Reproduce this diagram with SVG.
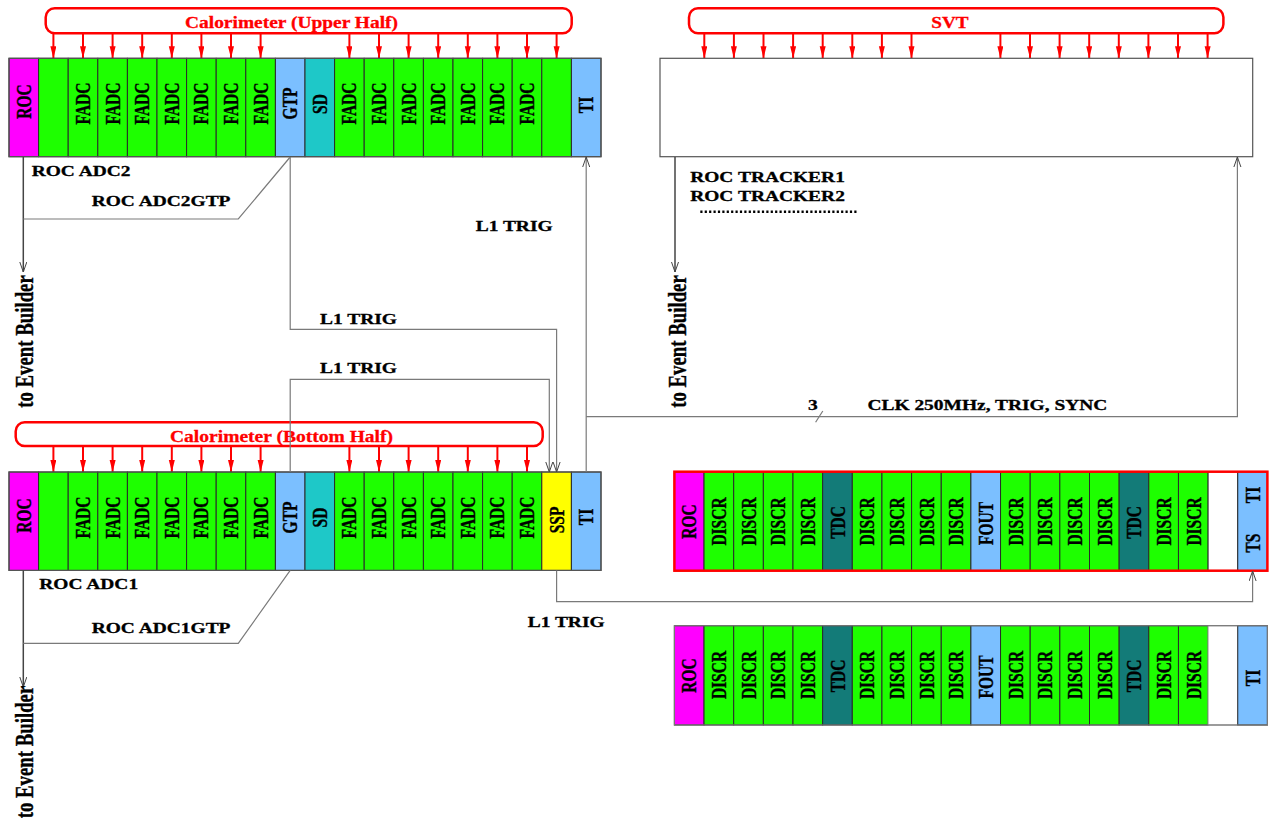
<svg xmlns="http://www.w3.org/2000/svg" width="1270" height="823" viewBox="0 0 1270 823">
<style>
.s{stroke:#2a2a2a;stroke-width:1}
.roc{fill:#ff00ff}.grn{fill:#1eff00}.lb{fill:#7bbfff}.sd{fill:#1ec8c8}.tdc{fill:#137b78}.ssp{fill:#ffff00}.wh{fill:#ffffff}
.crate{fill:none;stroke:#555;stroke-width:1.2}
.t{font-family:"Liberation Serif","Times New Roman",serif;font-weight:bold;font-size:15.5px;fill:#000;stroke:#000;stroke-width:0.3}
.v{text-anchor:middle}
.ttl{font-family:"Liberation Serif","Times New Roman",serif;font-weight:bold;font-size:17px;fill:#ff0000;stroke:#ff0000;stroke-width:0.3}
.bus{fill:none;stroke:#ff0000;stroke-width:2.5}
.ra{stroke:#ff0000;stroke-width:2;marker-end:url(#rh)}
.c{fill:none;stroke:#7a7a7a;stroke-width:1.2}
.eb{fill:none;stroke:#444;stroke-width:1.5}
</style>
<defs>
<marker id="rh" markerUnits="userSpaceOnUse" markerWidth="14" markerHeight="8" refX="12" refY="3" orient="auto"><path d="M0,0 L12,3 L0,6 z" fill="#ff0000"/></marker>
<marker id="oh" markerUnits="userSpaceOnUse" markerWidth="12" markerHeight="10" refX="10" refY="4" orient="auto"><path d="M0,0.5 L10,4 L0,7.5" fill="none" stroke="#444" stroke-width="1"/></marker>
</defs>
<rect width="1270" height="823" fill="#fff"/>

<g id="calo-upper-bus">
<rect class="bus" x="45.7" y="8.3" width="526" height="25" rx="9"/>
<text class="ttl" transform="translate(185,28.3) scale(1.144,1)">Calorimeter (Upper Half)</text>
<line class="ra" x1="53.4" y1="33.3" x2="53.4" y2="58.3"/><line class="ra" x1="83" y1="33.3" x2="83" y2="58.3"/><line class="ra" x1="112.6" y1="33.3" x2="112.6" y2="58.3"/><line class="ra" x1="142.2" y1="33.3" x2="142.2" y2="58.3"/><line class="ra" x1="171.8" y1="33.3" x2="171.8" y2="58.3"/><line class="ra" x1="201.4" y1="33.3" x2="201.4" y2="58.3"/><line class="ra" x1="231" y1="33.3" x2="231" y2="58.3"/><line class="ra" x1="260.6" y1="33.3" x2="260.6" y2="58.3"/>
<line class="ra" x1="349.4" y1="33.3" x2="349.4" y2="58.3"/><line class="ra" x1="379" y1="33.3" x2="379" y2="58.3"/><line class="ra" x1="408.6" y1="33.3" x2="408.6" y2="58.3"/><line class="ra" x1="438.2" y1="33.3" x2="438.2" y2="58.3"/><line class="ra" x1="467.8" y1="33.3" x2="467.8" y2="58.3"/><line class="ra" x1="497.4" y1="33.3" x2="497.4" y2="58.3"/><line class="ra" x1="527" y1="33.3" x2="527" y2="58.3"/><line class="ra" x1="556.6" y1="33.3" x2="556.6" y2="58.3"/>
</g>

<g id="crate-adc2">
<rect class="s roc" x="9" y="58.3" width="29.6" height="98.4"/>
<rect class="s grn" x="38.6" y="58.3" width="29.6" height="98.4"/>
<rect class="s grn" x="68.2" y="58.3" width="29.6" height="98.4"/>
<rect class="s grn" x="97.8" y="58.3" width="29.6" height="98.4"/>
<rect class="s grn" x="127.4" y="58.3" width="29.6" height="98.4"/>
<rect class="s grn" x="157" y="58.3" width="29.6" height="98.4"/>
<rect class="s grn" x="186.6" y="58.3" width="29.6" height="98.4"/>
<rect class="s grn" x="216.2" y="58.3" width="29.6" height="98.4"/>
<rect class="s grn" x="245.8" y="58.3" width="29.6" height="98.4"/>
<rect class="s lb" x="275.4" y="58.3" width="29.6" height="98.4"/>
<rect class="s sd" x="305" y="58.3" width="29.6" height="98.4"/>
<rect class="s grn" x="334.6" y="58.3" width="29.6" height="98.4"/>
<rect class="s grn" x="364.2" y="58.3" width="29.6" height="98.4"/>
<rect class="s grn" x="393.8" y="58.3" width="29.6" height="98.4"/>
<rect class="s grn" x="423.4" y="58.3" width="29.6" height="98.4"/>
<rect class="s grn" x="453" y="58.3" width="29.6" height="98.4"/>
<rect class="s grn" x="482.6" y="58.3" width="29.6" height="98.4"/>
<rect class="s grn" x="512.2" y="58.3" width="29.6" height="98.4"/>
<rect class="s grn" x="541.8" y="58.3" width="29.6" height="98.4"/>
<rect class="s lb" x="571.4" y="58.3" width="29.6" height="98.4"/>
<rect class="crate" x="9" y="58.3" width="592" height="98.4"/>
<g class="t v">
<text transform="translate(30.8,101.5) scale(1.3,1) rotate(-90)">ROC</text>
<text transform="translate(90,103.5) scale(1.3,1) rotate(-90)">FADC</text>
<text transform="translate(119.6,103.5) scale(1.3,1) rotate(-90)">FADC</text>
<text transform="translate(149.2,103.5) scale(1.3,1) rotate(-90)">FADC</text>
<text transform="translate(178.8,103.5) scale(1.3,1) rotate(-90)">FADC</text>
<text transform="translate(208.4,103.5) scale(1.3,1) rotate(-90)">FADC</text>
<text transform="translate(238,103.5) scale(1.3,1) rotate(-90)">FADC</text>
<text transform="translate(267.6,103.5) scale(1.3,1) rotate(-90)">FADC</text>
<text transform="translate(297.2,103.5) scale(1.3,1) rotate(-90)">GTP</text>
<text transform="translate(326.8,104) scale(1.3,1) rotate(-90)">SD</text>
<text transform="translate(356.4,103.5) scale(1.3,1) rotate(-90)">FADC</text>
<text transform="translate(386,103.5) scale(1.3,1) rotate(-90)">FADC</text>
<text transform="translate(415.6,103.5) scale(1.3,1) rotate(-90)">FADC</text>
<text transform="translate(445.2,103.5) scale(1.3,1) rotate(-90)">FADC</text>
<text transform="translate(474.8,103.5) scale(1.3,1) rotate(-90)">FADC</text>
<text transform="translate(504.4,103.5) scale(1.3,1) rotate(-90)">FADC</text>
<text transform="translate(534,103.5) scale(1.3,1) rotate(-90)">FADC</text>
<text transform="translate(593.2,105) scale(1.3,1) rotate(-90)">TI</text>
</g>
<text class="t" transform="translate(31.7,176) scale(1.255,1)">ROC ADC2</text>
<text class="t" transform="translate(91.7,206) scale(1.255,1)">ROC ADC2GTP</text>
</g>

<g id="svt-bus">
<rect class="bus" x="689" y="8.3" width="534.4" height="25" rx="9"/>
<text class="ttl" transform="translate(931.3,28) scale(1.13,1)">SVT</text>
<line class="ra" x1="704.3" y1="33.3" x2="704.3" y2="58.3"/><line class="ra" x1="733.9" y1="33.3" x2="733.9" y2="58.3"/><line class="ra" x1="763.5" y1="33.3" x2="763.5" y2="58.3"/><line class="ra" x1="793.1" y1="33.3" x2="793.1" y2="58.3"/><line class="ra" x1="822.7" y1="33.3" x2="822.7" y2="58.3"/><line class="ra" x1="852.3" y1="33.3" x2="852.3" y2="58.3"/><line class="ra" x1="881.9" y1="33.3" x2="881.9" y2="58.3"/><line class="ra" x1="911.5" y1="33.3" x2="911.5" y2="58.3"/>
<line class="ra" x1="1000.4" y1="33.3" x2="1000.4" y2="58.3"/><line class="ra" x1="1030" y1="33.3" x2="1030" y2="58.3"/><line class="ra" x1="1059.6" y1="33.3" x2="1059.6" y2="58.3"/><line class="ra" x1="1089.2" y1="33.3" x2="1089.2" y2="58.3"/><line class="ra" x1="1118.8" y1="33.3" x2="1118.8" y2="58.3"/><line class="ra" x1="1148.4" y1="33.3" x2="1148.4" y2="58.3"/><line class="ra" x1="1178" y1="33.3" x2="1178" y2="58.3"/><line class="ra" x1="1207.6" y1="33.3" x2="1207.6" y2="58.3"/>
</g>

<g id="svt-crate">
<rect x="660" y="58.3" width="592.7" height="98.4" fill="#fff" stroke="#555" stroke-width="1.2"/>
<text class="t" transform="translate(690.2,181.7) scale(1.255,1)">ROC TRACKER1</text>
<text class="t" transform="translate(690.2,201) scale(1.255,1)">ROC TRACKER2</text>
<line x1="700.3" y1="211.7" x2="857" y2="211.7" stroke="#000" stroke-width="2.6" stroke-dasharray="2.2 2.2"/>
</g>

<g id="calo-bottom-bus">
<rect class="bus" x="15.7" y="422.3" width="527" height="23.7" rx="9"/>
<text class="ttl" transform="translate(170,441.7) scale(1.15,1)">Calorimeter (Bottom Half)</text>
<line class="ra" x1="53.4" y1="446" x2="53.4" y2="472"/><line class="ra" x1="83" y1="446" x2="83" y2="472"/><line class="ra" x1="112.6" y1="446" x2="112.6" y2="472"/><line class="ra" x1="142.2" y1="446" x2="142.2" y2="472"/><line class="ra" x1="171.8" y1="446" x2="171.8" y2="472"/><line class="ra" x1="201.4" y1="446" x2="201.4" y2="472"/><line class="ra" x1="231" y1="446" x2="231" y2="472"/><line class="ra" x1="260.6" y1="446" x2="260.6" y2="472"/>
<line class="ra" x1="349.4" y1="446" x2="349.4" y2="472"/><line class="ra" x1="379" y1="446" x2="379" y2="472"/><line class="ra" x1="408.6" y1="446" x2="408.6" y2="472"/><line class="ra" x1="438.2" y1="446" x2="438.2" y2="472"/><line class="ra" x1="467.8" y1="446" x2="467.8" y2="472"/><line class="ra" x1="497.4" y1="446" x2="497.4" y2="472"/><line class="ra" x1="527" y1="446" x2="527" y2="472"/>
</g>

<g id="crate-adc1">
<rect class="s roc" x="9" y="472" width="29.6" height="98.4"/>
<rect class="s grn" x="38.6" y="472" width="29.6" height="98.4"/>
<rect class="s grn" x="68.2" y="472" width="29.6" height="98.4"/>
<rect class="s grn" x="97.8" y="472" width="29.6" height="98.4"/>
<rect class="s grn" x="127.4" y="472" width="29.6" height="98.4"/>
<rect class="s grn" x="157" y="472" width="29.6" height="98.4"/>
<rect class="s grn" x="186.6" y="472" width="29.6" height="98.4"/>
<rect class="s grn" x="216.2" y="472" width="29.6" height="98.4"/>
<rect class="s grn" x="245.8" y="472" width="29.6" height="98.4"/>
<rect class="s lb" x="275.4" y="472" width="29.6" height="98.4"/>
<rect class="s sd" x="305" y="472" width="29.6" height="98.4"/>
<rect class="s grn" x="334.6" y="472" width="29.6" height="98.4"/>
<rect class="s grn" x="364.2" y="472" width="29.6" height="98.4"/>
<rect class="s grn" x="393.8" y="472" width="29.6" height="98.4"/>
<rect class="s grn" x="423.4" y="472" width="29.6" height="98.4"/>
<rect class="s grn" x="453" y="472" width="29.6" height="98.4"/>
<rect class="s grn" x="482.6" y="472" width="29.6" height="98.4"/>
<rect class="s grn" x="512.2" y="472" width="29.6" height="98.4"/>
<rect class="s ssp" x="541.8" y="472" width="29.6" height="98.4"/>
<rect class="s lb" x="571.4" y="472" width="29.6" height="98.4"/>
<rect class="crate" x="9" y="472" width="592" height="98.4"/>
<g class="t v">
<text transform="translate(30.8,515.5) scale(1.3,1) rotate(-90)">ROC</text>
<text transform="translate(90,517.5) scale(1.3,1) rotate(-90)">FADC</text>
<text transform="translate(119.6,517.5) scale(1.3,1) rotate(-90)">FADC</text>
<text transform="translate(149.2,517.5) scale(1.3,1) rotate(-90)">FADC</text>
<text transform="translate(178.8,517.5) scale(1.3,1) rotate(-90)">FADC</text>
<text transform="translate(208.4,517.5) scale(1.3,1) rotate(-90)">FADC</text>
<text transform="translate(238,517.5) scale(1.3,1) rotate(-90)">FADC</text>
<text transform="translate(267.6,517.5) scale(1.3,1) rotate(-90)">FADC</text>
<text transform="translate(297.2,517.5) scale(1.3,1) rotate(-90)">GTP</text>
<text transform="translate(326.8,517.5) scale(1.3,1) rotate(-90)">SD</text>
<text transform="translate(356.4,517.5) scale(1.3,1) rotate(-90)">FADC</text>
<text transform="translate(386,517.5) scale(1.3,1) rotate(-90)">FADC</text>
<text transform="translate(415.6,517.5) scale(1.3,1) rotate(-90)">FADC</text>
<text transform="translate(445.2,517.5) scale(1.3,1) rotate(-90)">FADC</text>
<text transform="translate(474.8,517.5) scale(1.3,1) rotate(-90)">FADC</text>
<text transform="translate(504.4,517.5) scale(1.3,1) rotate(-90)">FADC</text>
<text transform="translate(534,517.5) scale(1.3,1) rotate(-90)">FADC</text>
<text transform="translate(563.6,520) scale(1.3,1) rotate(-90)">SSP</text>
<text transform="translate(593.2,517) scale(1.3,1) rotate(-90)">TI</text>
</g>
<text class="t" transform="translate(39.3,589.3) scale(1.255,1)">ROC ADC1</text>
<text class="t" transform="translate(91.7,633.3) scale(1.255,1)">ROC ADC1GTP</text>
</g>

<g id="crate-trigger-ts">
<rect class="s roc" x="674.4" y="471.7" width="29.65" height="99"/>
<rect class="s grn" x="704.05" y="471.7" width="29.65" height="99"/>
<rect class="s grn" x="733.7" y="471.7" width="29.65" height="99"/>
<rect class="s grn" x="763.35" y="471.7" width="29.65" height="99"/>
<rect class="s grn" x="793" y="471.7" width="29.65" height="99"/>
<rect class="s tdc" x="822.65" y="471.7" width="29.65" height="99"/>
<rect class="s grn" x="852.3" y="471.7" width="29.65" height="99"/>
<rect class="s grn" x="881.95" y="471.7" width="29.65" height="99"/>
<rect class="s grn" x="911.6" y="471.7" width="29.65" height="99"/>
<rect class="s grn" x="941.25" y="471.7" width="29.65" height="99"/>
<rect class="s lb" x="970.9" y="471.7" width="29.65" height="99"/>
<rect class="s grn" x="1000.55" y="471.7" width="29.65" height="99"/>
<rect class="s grn" x="1030.2" y="471.7" width="29.65" height="99"/>
<rect class="s grn" x="1059.85" y="471.7" width="29.65" height="99"/>
<rect class="s grn" x="1089.5" y="471.7" width="29.65" height="99"/>
<rect class="s tdc" x="1119.15" y="471.7" width="29.65" height="99"/>
<rect class="s grn" x="1148.8" y="471.7" width="29.65" height="99"/>
<rect class="s grn" x="1178.45" y="471.7" width="29.65" height="99"/>
<rect class="s wh" x="1208.1" y="471.7" width="29.65" height="99"/>
<rect class="s lb" x="1237.75" y="471.7" width="29.65" height="99"/>
<rect x="674.4" y="471.7" width="593" height="99" fill="none" stroke="#ff0000" stroke-width="2.5"/>
<g class="t v">
<text transform="translate(696.4,521.5) scale(1.3,1) rotate(-90)">ROC</text>
<text transform="translate(726.1,521.5) scale(1.3,1) rotate(-90)">DISCR</text>
<text transform="translate(755.7,521.5) scale(1.3,1) rotate(-90)">DISCR</text>
<text transform="translate(785.4,521.5) scale(1.3,1) rotate(-90)">DISCR</text>
<text transform="translate(815,521.5) scale(1.3,1) rotate(-90)">DISCR</text>
<text transform="translate(844.7,522.5) scale(1.3,1) rotate(-90)">TDC</text>
<text transform="translate(874.3,521.5) scale(1.3,1) rotate(-90)">DISCR</text>
<text transform="translate(904,521.5) scale(1.3,1) rotate(-90)">DISCR</text>
<text transform="translate(933.6,521.5) scale(1.3,1) rotate(-90)">DISCR</text>
<text transform="translate(963.3,521.5) scale(1.3,1) rotate(-90)">DISCR</text>
<text transform="translate(992.9,523.5) scale(1.3,1) rotate(-90)">FOUT</text>
<text transform="translate(1022.6,521.5) scale(1.3,1) rotate(-90)">DISCR</text>
<text transform="translate(1052.2,521.5) scale(1.3,1) rotate(-90)">DISCR</text>
<text transform="translate(1081.9,521.5) scale(1.3,1) rotate(-90)">DISCR</text>
<text transform="translate(1111.5,521.5) scale(1.3,1) rotate(-90)">DISCR</text>
<text transform="translate(1141.2,522.5) scale(1.3,1) rotate(-90)">TDC</text>
<text transform="translate(1170.8,521.5) scale(1.3,1) rotate(-90)">DISCR</text>
<text transform="translate(1200.5,521.5) scale(1.3,1) rotate(-90)">DISCR</text>
<text transform="translate(1259.8,495) scale(1.3,1) rotate(-90)">TI</text>
<text transform="translate(1259.8,543) scale(1.3,1) rotate(-90)">TS</text>
</g>
</g>

<g id="crate-trigger-ti">
<rect class="s roc" x="674.4" y="625.7" width="29.65" height="99.3"/>
<rect class="s grn" x="704.05" y="625.7" width="29.65" height="99.3"/>
<rect class="s grn" x="733.7" y="625.7" width="29.65" height="99.3"/>
<rect class="s grn" x="763.35" y="625.7" width="29.65" height="99.3"/>
<rect class="s grn" x="793" y="625.7" width="29.65" height="99.3"/>
<rect class="s tdc" x="822.65" y="625.7" width="29.65" height="99.3"/>
<rect class="s grn" x="852.3" y="625.7" width="29.65" height="99.3"/>
<rect class="s grn" x="881.95" y="625.7" width="29.65" height="99.3"/>
<rect class="s grn" x="911.6" y="625.7" width="29.65" height="99.3"/>
<rect class="s grn" x="941.25" y="625.7" width="29.65" height="99.3"/>
<rect class="s lb" x="970.9" y="625.7" width="29.65" height="99.3"/>
<rect class="s grn" x="1000.55" y="625.7" width="29.65" height="99.3"/>
<rect class="s grn" x="1030.2" y="625.7" width="29.65" height="99.3"/>
<rect class="s grn" x="1059.85" y="625.7" width="29.65" height="99.3"/>
<rect class="s grn" x="1089.5" y="625.7" width="29.65" height="99.3"/>
<rect class="s tdc" x="1119.15" y="625.7" width="29.65" height="99.3"/>
<rect class="s grn" x="1148.8" y="625.7" width="29.65" height="99.3"/>
<rect class="s grn" x="1178.45" y="625.7" width="29.65" height="99.3"/>
<rect x="1208.1" y="625.7" width="29.65" height="99.3" fill="#fff" stroke="#aaa" stroke-width="1"/>
<rect class="s lb" x="1237.75" y="625.7" width="29.65" height="99.3"/>
<rect x="674.4" y="625.7" width="593" height="99.3" fill="none" stroke="#777" stroke-width="1.2"/>
<g class="t v">
<text transform="translate(696.4,675.5) scale(1.3,1) rotate(-90)">ROC</text>
<text transform="translate(726.1,675) scale(1.3,1) rotate(-90)">DISCR</text>
<text transform="translate(755.7,675) scale(1.3,1) rotate(-90)">DISCR</text>
<text transform="translate(785.4,675) scale(1.3,1) rotate(-90)">DISCR</text>
<text transform="translate(815,675) scale(1.3,1) rotate(-90)">DISCR</text>
<text transform="translate(844.7,676) scale(1.3,1) rotate(-90)">TDC</text>
<text transform="translate(874.3,675) scale(1.3,1) rotate(-90)">DISCR</text>
<text transform="translate(904,675) scale(1.3,1) rotate(-90)">DISCR</text>
<text transform="translate(933.6,675) scale(1.3,1) rotate(-90)">DISCR</text>
<text transform="translate(963.3,675) scale(1.3,1) rotate(-90)">DISCR</text>
<text transform="translate(992.9,677) scale(1.3,1) rotate(-90)">FOUT</text>
<text transform="translate(1022.6,675) scale(1.3,1) rotate(-90)">DISCR</text>
<text transform="translate(1052.2,675) scale(1.3,1) rotate(-90)">DISCR</text>
<text transform="translate(1081.9,675) scale(1.3,1) rotate(-90)">DISCR</text>
<text transform="translate(1111.5,675) scale(1.3,1) rotate(-90)">DISCR</text>
<text transform="translate(1141.2,676) scale(1.3,1) rotate(-90)">TDC</text>
<text transform="translate(1170.8,675) scale(1.3,1) rotate(-90)">DISCR</text>
<text transform="translate(1200.5,675) scale(1.3,1) rotate(-90)">DISCR</text>
<text transform="translate(1259.8,678) scale(1.3,1) rotate(-90)">TI</text>
</g>
</g>

<g id="connectors">
<path class="eb" d="M23.3,157 V272" marker-end="url(#oh)"/>
<path class="c" d="M290.2,157 L238.3,219 H23.3"/>
<path class="c" d="M290.2,157 V329.3 H556.6 V472" marker-end="url(#oh)"/>
<path class="c" d="M290.2,472 V379.3 H549.3 V472" marker-end="url(#oh)"/>
<path class="c" d="M586.2,472 V157" marker-end="url(#oh)"/>
<path class="c" d="M586.2,416.7 H1237.4 V157" marker-end="url(#oh)"/>
<path class="c" d="M815.6,422.3 L822.8,411"/>
<path class="eb" d="M675,157 V272" marker-end="url(#oh)"/>
<path class="eb" d="M23.3,570.4 V687" marker-end="url(#oh)"/>
<path class="c" d="M290.2,570.4 L238.3,643.3 H23.3"/>
<path class="c" d="M556.6,570.4 V601.7 H1252.6 V571" marker-end="url(#oh)"/>
<g class="t">
<text transform="translate(475.7,231) scale(1.255,1)">L1 TRIG</text>
<text transform="translate(320,324) scale(1.255,1)">L1 TRIG</text>
<text transform="translate(320,373) scale(1.255,1)">L1 TRIG</text>
<text transform="translate(808,410) scale(1.255,1)">3</text>
<text transform="translate(867.4,410) scale(1.255,1)">CLK 250MHz, TRIG, SYNC</text>
<text transform="translate(527.7,626.7) scale(1.255,1)">L1 TRIG</text>
</g>
<g class="t v" style="font-size:18.8px">
<text transform="translate(33.3,341.5) scale(1.29,1) rotate(-90)">to Event Builder</text>
<text transform="translate(686,341.5) scale(1.29,1) rotate(-90)">to Event Builder</text>
<text transform="translate(33.3,752) scale(1.29,1) rotate(-90)">to Event Builder</text>
</g>
</g>
</svg>
